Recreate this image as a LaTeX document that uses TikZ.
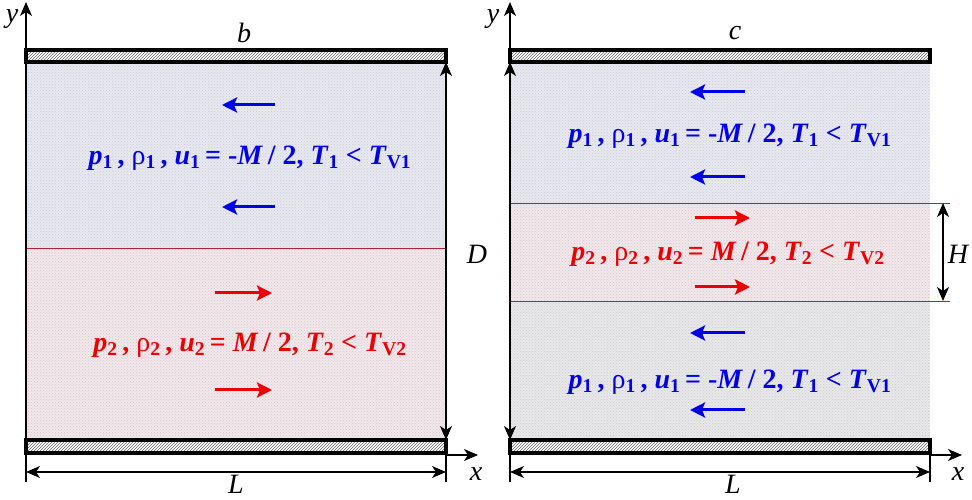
\documentclass[tikz,border=0pt]{standalone}
\usepackage{fontspec}
\setmainfont{Liberation Serif}
\usetikzlibrary{arrows.meta,patterns}

\definecolor{gasblue}{RGB}{0,0,230}
\definecolor{gasred}{RGB}{235,0,0}
\definecolor{layerone}{RGB}{232,232,242}
\definecolor{layertwo}{RGB}{243,231,236}
\definecolor{layerlow}{RGB}{232,232,235}
\definecolor{interface}{RGB}{175,35,55}

% state of a gas layer: index, sign of the velocity
\newcommand{\gasstate}[2]{\textbf{\textit{p}\textsubscript{#1}\,, \textmd{ρ}\textsubscript{#1}\,, \textit{u}\textsubscript{#1}\,= #2\textit{M}\,/ 2, \textit{T}\textsubscript{#1} < \textit{T}\textsubscript{V#1}}}

\begin{document}
\begin{tikzpicture}[x=1pt, y=1pt,
    plate/.style={draw=black, line width=3.4pt, pattern=north east lines, pattern color=black!60},
    axisline/.style={line width=1.2pt},
    axis/.style={line width=1.2pt, -{Stealth[length=14pt, width=12pt, inset=4pt]}},
    dim/.style={line width=1.2pt, {Stealth[length=14pt, width=12pt, inset=4pt]}-{Stealth[length=14pt, width=12pt, inset=4pt]}},
    flow/.style={line width=3pt, -{Stealth[length=15pt, width=15pt, inset=3pt]}},
    lbl/.style={font=\fontsize{28}{30}\selectfont\itshape, inner sep=0pt},
    state/.style={font=\fontsize{28}{31}\selectfont}]
    \useasboundingbox (0,0) rectangle (972,500);

    % panel b
    \begin{scope}
        \fill [layerone] (26,252) rectangle (446,438);
        \fill [layertwo] (26,60) rectangle (446,252);
        \fill [pattern=crosshatch dots, pattern color=black!20] (26,60) rectangle (446,438);
        \draw [interface, line width=0.9pt] (26,252) -- (446,252);
        \draw [plate] (26,438) rectangle (446,450);
        \draw [plate] (26,47) rectangle (446,60);

        \coordinate (bbot) at (26,18);
        \coordinate (btop) at (26,498);
        \coordinate (bend) at (446,18);
        \draw [axis] (bbot) -- (btop);
        \node [lbl] (by) at (12,481) {y};
        \draw [axis] (446,45) -- (478,45);
        \node [lbl] (bx) at (476,26) {x};
        \draw [axisline] (bend) -- (446,60);
        \draw [dim] (446,60) -- (446,438);
        \draw [dim] (26,28) -- (446,28);
        \node [lbl] (bL) at (236,16) {L};
        \node [lbl] (bb) at (244,467) {b};
        \node [lbl] (bD) at (477,246) {D};

        \draw [flow, gasblue] (275,395) -- (222,395);
        \node [state, text=gasblue] (bone) at (250,342) {\gasstate{1}{-}};
        \draw [flow, gasblue] (275,293) -- (222,293);
        \draw [flow, gasred] (215,207) -- (272,207);
        \node [state, text=gasred] (btwo) at (250,155) {\gasstate{2}{}};
        \draw [flow, gasred] (215,110) -- (272,110);
    \end{scope}

    % panel c
    \begin{scope}[xshift=484]
        \fill [layerone] (26,297) rectangle (446,438);
        \fill [layertwo] (26,199) rectangle (446,297);
        \fill [layerlow] (26,60) rectangle (446,199);
        \fill [pattern=crosshatch dots, pattern color=black!20] (26,60) rectangle (446,438);
        \draw [interface, line width=0.9pt] (26,297) -- (466,297);
        \draw [interface, line width=0.9pt] (26,199) -- (466,199);
        \draw [plate] (26,438) rectangle (446,450);
        \draw [plate] (26,47) rectangle (446,60);

        \coordinate (cbot) at (26,18);
        \coordinate (ctop) at (26,498);
        \coordinate (cend) at (446,18);
        \draw [axis] (cbot) -- (ctop);
        \node [lbl] (cy) at (9,481) {y};
        \draw [axis] (446,45) -- (478,45);
        \node [lbl] (cx) at (474,26) {x};
        \draw [axisline] (cend) -- (446,47);
        \draw [dim] (26,60) -- (26,438);
        \draw [dim] (459,297) -- (459,199);
        \node [lbl] (cH) at (474,246) {H};
        \draw [dim] (26,28) -- (446,28);
        \node [lbl] (cL) at (249,16) {L};
        \node [lbl] (cc) at (251,467) {c};

        \draw [flow, gasblue] (261,408) -- (206,408);
        \node [state, text=gasblue] (cone) at (246,364) {\gasstate{1}{-}};
        \draw [flow, gasblue] (261,323) -- (206,323);
        \draw [flow, gasred] (211,282) -- (266,282);
        \node [state, text=gasred] (ctwo) at (244,246) {\gasstate{2}{}};
        \draw [flow, gasred] (211,213) -- (266,213);
        \draw [flow, gasblue] (261,167) -- (206,167);
        \node [state, text=gasblue] (cthree) at (246,118) {\gasstate{1}{-}};
        \draw [flow, gasblue] (261,90) -- (206,90);
    \end{scope}
\end{tikzpicture}
\end{document}
